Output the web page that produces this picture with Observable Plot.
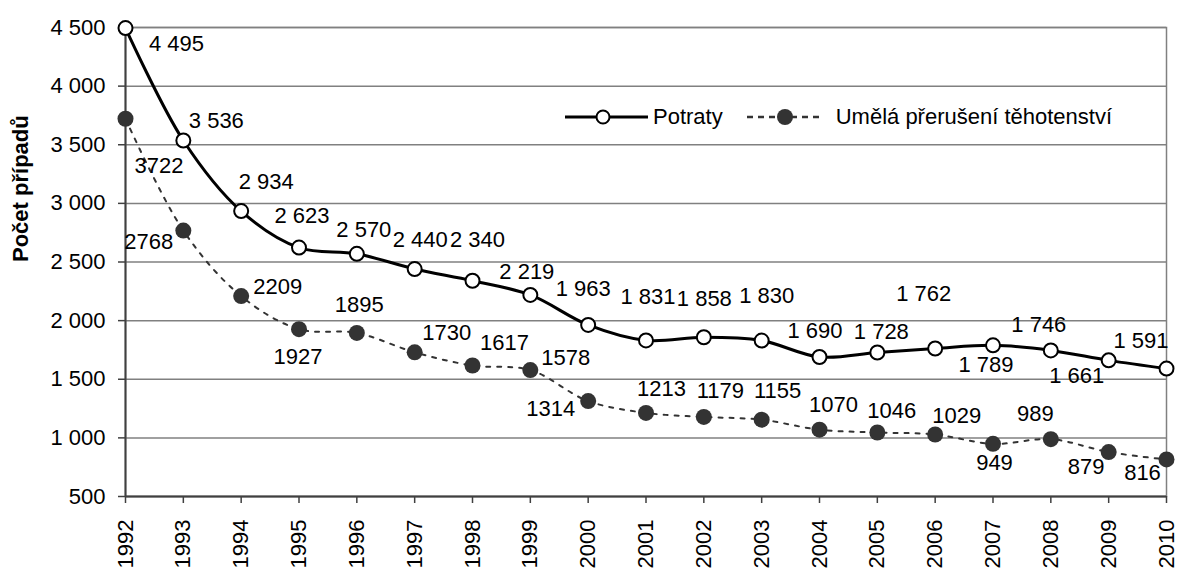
<!DOCTYPE html>
<html><head><meta charset="utf-8">
<script src="https://cdn.jsdelivr.net/npm/d3@7"></script>
<script src="https://cdn.jsdelivr.net/npm/@observablehq/plot@0.6"></script>
<style>
body{margin:0;background:#fff;}
#wrap{position:relative;width:1178px;height:568px;font-family:"Liberation Sans",Arial,sans-serif;}
#legend{position:absolute;left:565px;top:105px;height:24px;display:flex;align-items:center;font-size:22px;white-space:nowrap;color:#000;}
#legend svg{display:block;}
</style></head>
<body><div id="wrap"><div id="legend"></div></div>
<script>
const years = [1992,1993,1994,1995,1996,1997,1998,1999,2000,2001,2002,2003,2004,2005,2006,2007,2008,2009,2010];
const potraty = [4495,3536,2934,2623,2570,2440,2340,2219,1963,1831,1858,1830,1690,1728,1762,1789,1746,1661,1591];
const umela = [3722,2768,2209,1927,1895,1730,1617,1578,1314,1213,1179,1155,1070,1046,1029,949,989,879,816];
const yTicks = [500,1000,1500,2000,2500,3000,3500,4000,4500];
const seriesNames = ["Potraty","Umělá přerušení těhotenství"];
const yTitle = "Počet případů";

// label placement offsets (style only, px relative to each point)
const potratyLabelOffsets = [[51,16],[33,-20],[25,-29],[3,-32],[7,-24],[5.5,-29],[5,-41],[-3.5,-23],[-5,-36],[2,-43],[0.5,-38],[5,-45],[-4.5,-26],[4,-21],[-11.5,-55],[-7,20],[-12,-25],[-32,16],[-25.5,-28]];
const umelaLabelOffsets = [[33.5,47.5],[-34.5,11.5],[36.5,-9],[-1,28],[2.5,-28],[32,-19],[32,-23],[35.5,-12],[-37.5,8],[15.5,-24],[16.5,-26],[16,-28.5],[14,-24.5],[14.5,-22],[21.5,-19],[1.5,19],[-15.5,-25],[-22.5,15],[-24,14]];

const fmtSpace = v => d3.format(",")(v).replace(/,/g, " ");
const potratyData = years.map((year, i) => ({year, value: potraty[i]}));
const umelaData = years.map((year, i) => ({year, value: umela[i]}));

const FONT = 22;
const labelMarks = [
  ...potratyData.map((d, i) => Plot.text([d], {x: "year", y: "value", text: d => fmtSpace(d.value), dx: potratyLabelOffsets[i][0], dy: potratyLabelOffsets[i][1], fontSize: FONT, fill: "black"})),
  ...umelaData.map((d, i) => Plot.text([d], {x: "year", y: "value", text: d => String(d.value), dx: umelaLabelOffsets[i][0], dy: umelaLabelOffsets[i][1], fontSize: FONT, fill: "black"}))
];

const chart = Plot.plot({
  width: 1178,
  height: 568,
  marginLeft: 125,
  marginRight: 12,
  marginTop: 27,
  marginBottom: 72,
  style: {fontFamily: '"Liberation Sans", Arial, sans-serif', fontSize: FONT + "px", background: "white", color: "black", overflow: "visible"},
  x: {domain: [1992, 2010], label: null},
  y: {domain: [500, 4500], label: null},
  marks: [
    Plot.gridY(yTicks, {stroke: "#808080", strokeOpacity: 1, strokeWidth: 1.5}),
    Plot.frame({stroke: "#808080", strokeWidth: 1.5}),
    Plot.axisY(yTicks, {tickSize: 7, tickPadding: 13, tickFormat: fmtSpace, fontSize: FONT, stroke: "#404040", fill: "black", strokeWidth: 1.5, label: null}),
    Plot.axisX(years, {tickRotate: -90, tickSize: 7, tickPadding: 16, tickFormat: d => String(d), fontSize: FONT, stroke: "#404040", fill: "black", strokeWidth: 1.5, label: null}),
    Plot.ruleX([1992], {stroke: "#404040", strokeWidth: 2}),
    Plot.ruleY([500], {stroke: "#404040", strokeWidth: 2}),
    Plot.line(umelaData, {x: "year", y: "value", curve: "catmull-rom", stroke: "#333", strokeWidth: 2, strokeDasharray: "4,7"}),
    Plot.line(potratyData, {x: "year", y: "value", curve: "catmull-rom", stroke: "black", strokeWidth: 3}),
    Plot.dot(umelaData, {x: "year", y: "value", r: 8, fill: "#333", stroke: "none"}),
    Plot.dot(potratyData, {x: "year", y: "value", r: 7, fill: "white", stroke: "black", strokeWidth: 2}),
    ...labelMarks,
    Plot.text([yTitle], {text: d => d, frameAnchor: "left", rotate: -90, dx: -105, fontWeight: "bold", fontSize: FONT, fill: "black"})
  ]
});
document.getElementById("wrap").insertBefore(chart, document.getElementById("legend"));

// legend
const legend = document.getElementById("legend");
legend.innerHTML =
  `<svg width="83" height="24"><line x1="0" x2="83" y1="12" y2="12" stroke="black" stroke-width="3"/><circle cx="38" cy="12" r="6.5" fill="white" stroke="black" stroke-width="2"/></svg>` +
  `<span style="margin-left:5px">${seriesNames[0]}</span>` +
  `<svg width="76" height="24" style="margin-left:24px"><line x1="0" x2="76" y1="12" y2="12" stroke="#333" stroke-width="2.5" stroke-dasharray="6,5"/><circle cx="38" cy="12" r="8" fill="#333"/></svg>` +
  `<span style="margin-left:13px">${seriesNames[1]}</span>`;
</script>
</body></html>
